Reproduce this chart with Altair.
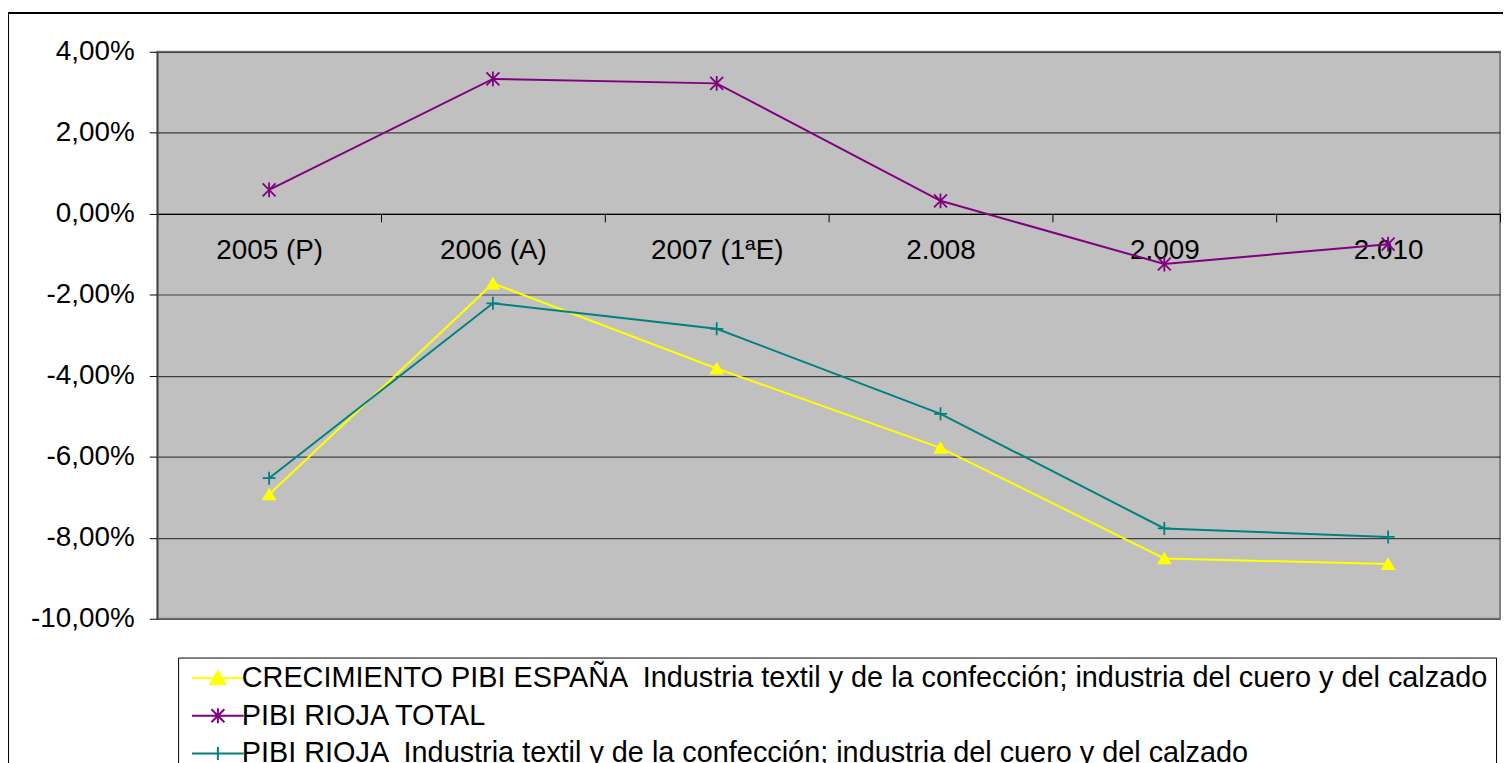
import altair as alt
import pandas as pd

years = ["2005 (P)", "2006 (A)", "2007 (1ªE)", "2.008", "2.009", "2.010"]
series_names = [
    "CRECIMIENTO PIBI ESPAÑA \u00a0Industria textil y de la confección; industria del cuero y del calzado",
    "PIBI RIOJA TOTAL",
    "PIBI RIOJA \u00a0Industria textil y de la confección; industria del cuero y del calzado",
]
espana = [-6.93, -1.72, -3.82, -5.78, -8.51, -8.65]
rioja_total = [0.59, 3.33, 3.22, 0.32, -1.24, -0.75]
rioja_textil = [-6.53, -2.21, -2.84, -4.94, -7.77, -7.98]
colors = ["#FFFF00", "#800080", "#008080"]
y_ticks = [-10, -8, -6, -4, -2, 0, 2, 4]

rows = []
for name, vals in zip(series_names, [espana, rioja_total, rioja_textil]):
    for i, (yr, v) in enumerate(zip(years, vals)):
        rows.append({"year": yr, "idx": i, "value": v, "series": name})
df = pd.DataFrame(rows)

FONT = "Liberation Sans"
FS = 28
LFS = 29

# marker shapes (unit square -1..1)
tri = "M0,-1.04L1.15,0.92L-1.15,0.92Z"
star = "M-1,-1L1,1M-1,1L1,-1M0,-1.15L0,1.15"
plus = "M-1,0L1,0M0,-1L0,1"
marker_paths = [tri, star, plus]
# legend symbols: line segment with the marker in its middle
legend_paths = [
    "M-1,0L7,0M3,-1.04L4.15,0.92L1.85,0.92Z",
    "M-1,0L7,0M2,-1L4,1M2,1L4,-1M3,-1.15L3,1.15",
    "M-1,0L7,0M2,0L4,0M3,-1L3,1",
]

x_enc = alt.X(
    "year:N",
    sort=years,
    scale=alt.Scale(type="band", domain=years, paddingInner=0, paddingOuter=0),
    axis=alt.Axis(
        title=None, labelAngle=0, orient="bottom", offset=-407,
        tickBand="extent", tickSize=8, tickColor="#000", tickWidth=1,
        domainColor="#000", domainWidth=1.2, grid=False,
        labelFont=FONT, labelFontSize=FS, labelColor="#000", labelPadding=15,
        labelBaseline="top",
    ),
)
y_enc = alt.Y(
    "value:Q",
    scale=alt.Scale(domain=[-10, 4], nice=False, zero=False),
    axis=alt.Axis(
        title=None, values=y_ticks, tickSize=8, tickColor="#000",
        domainColor="#404040", domainWidth=1.5,
        grid=True, gridColor="#404040", gridWidth=1.2, gridOpacity=1,
        labelFont=FONT, labelFontSize=FS, labelColor="#000", labelPadding=15,
        labelExpr="replace(replace(format(datum.value, '.2f'), '.', ','), '\u2212', '-') + '%'",
    ),
)

base = alt.Chart(df)

layers = []
for name, path, col in zip(series_names, marker_paths, colors):
    sub = base.transform_filter(alt.datum.series == name)
    ln = sub.mark_line(strokeWidth=2, color=col).encode(
        x=x_enc, y=y_enc, order=alt.Order("idx:Q")
    )
    pt = sub.mark_point(
        shape=path, size=169, filled=(path == tri), opacity=1,
        strokeWidth=1.8, color=col,
    ).encode(x=x_enc, y=y_enc)
    layers += [ln, pt]


def leg():
    return alt.Legend(
        title=None, orient="none", legendX=21, legendY=609, direction="vertical",
        labelFont=FONT, labelFontSize=LFS, labelColor="#000", labelLimit=2000,
        labelOffset=29, rowPadding=8, padding=6,
        symbolSize=169, symbolStrokeWidth=2,
        strokeColor="#000", fillColor="#FFFFFF",
    )


legend_layer = base.transform_filter("false").mark_point(
    filled=True, opacity=1, strokeWidth=2, size=169
).encode(
    x=x_enc, y=y_enc,
    fill=alt.Fill("series:N", scale=alt.Scale(domain=series_names, range=colors), legend=leg()),
    stroke=alt.Stroke("series:N", scale=alt.Scale(domain=series_names, range=colors), legend=leg()),
    shape=alt.Shape("series:N", scale=alt.Scale(domain=series_names, range=legend_paths), legend=leg()),
)

frame = alt.Chart(pd.DataFrame({"k": [0]})).mark_rect(
    filled=False, stroke="#000", strokeWidth=2
).encode(
    x=alt.value(-150), x2=alt.value(1500), y=alt.value(-39), y2=alt.value(900)
)

chart = alt.layer(frame, *layers, legend_layer).properties(
    width=1350, height=570,
    padding={"left": 150, "top": 42, "right": 3, "bottom": 143},
    autosize=alt.AutoSizeParams(type="none"),
    background="#FFFFFF",
).configure_view(
    fill="#C0C0C0", stroke="#808080", strokeWidth=2
)

chart.save("out.html", embed_options={"renderer": "svg", "actions": False})
